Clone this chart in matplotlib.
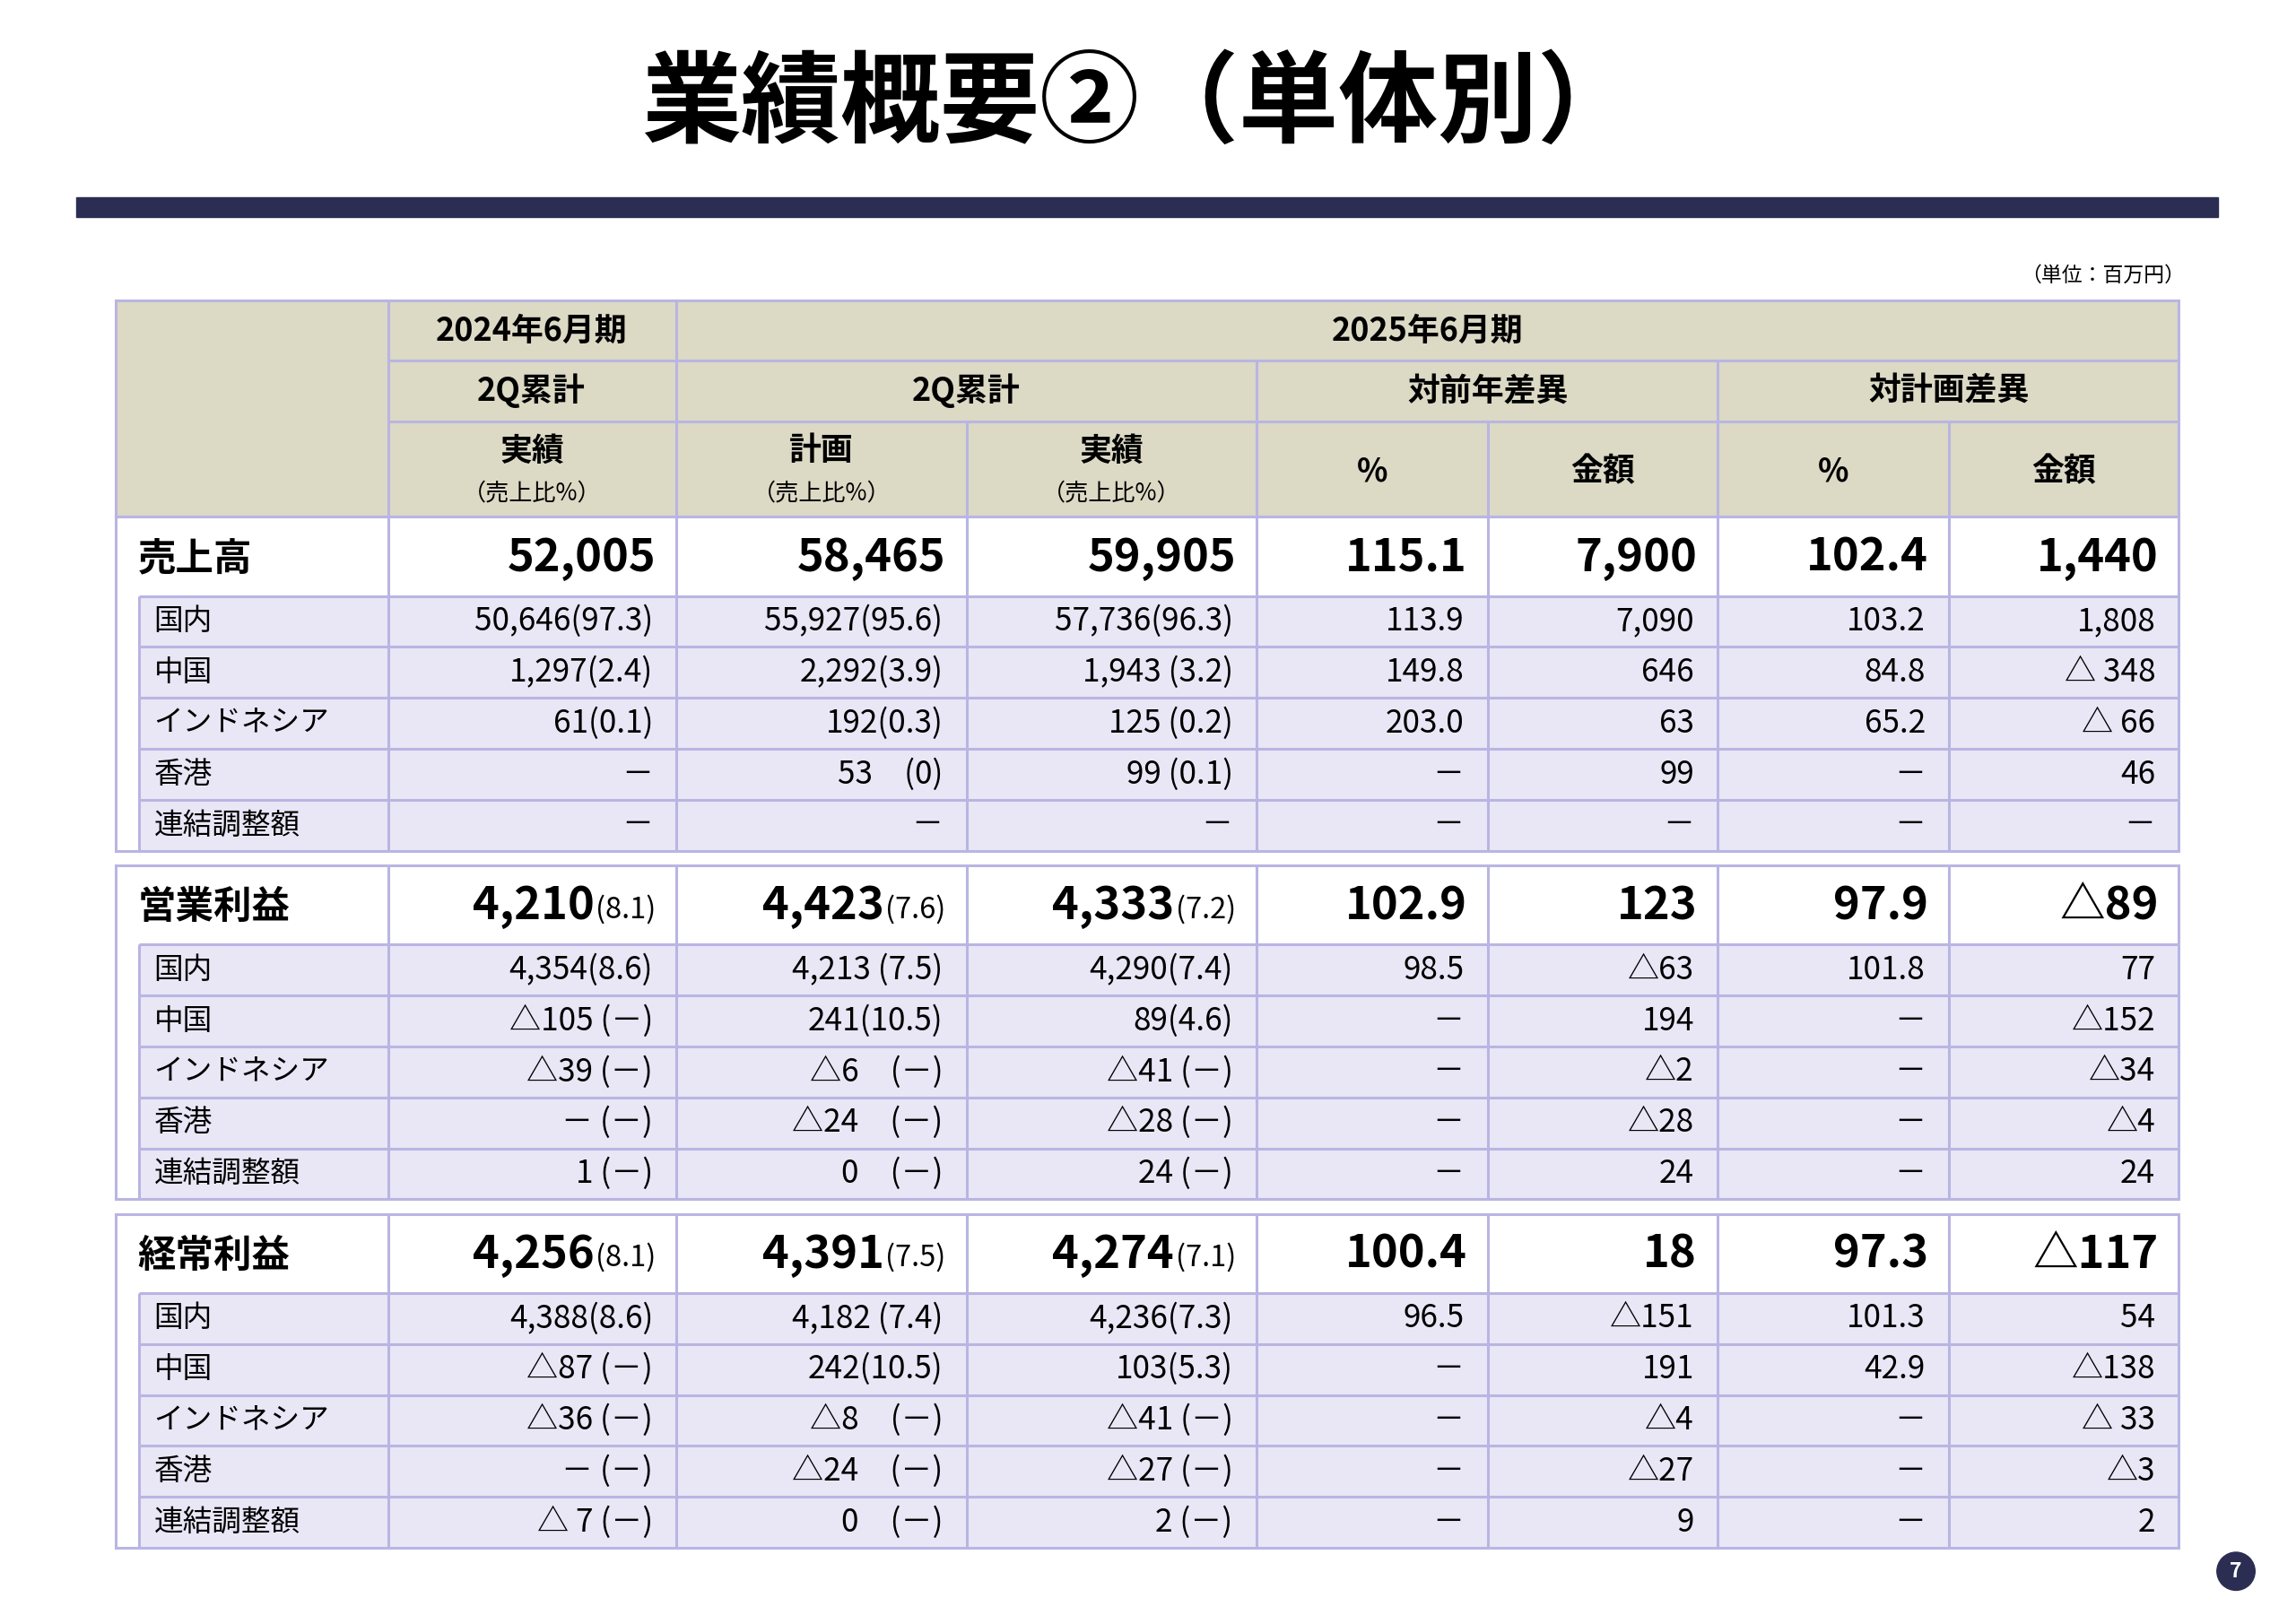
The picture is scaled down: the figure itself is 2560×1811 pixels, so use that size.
import matplotlib
matplotlib.use("Agg")
import matplotlib.pyplot as plt
from matplotlib.patches import Rectangle, Circle

FONT = "Noto Sans CJK JP"
plt.rcParams["font.family"] = FONT

title = "業績概要②（単体別）"
unit = "（単位：百万円）"
sections = ["売上高", "営業利益", "経常利益"]
sub_labels = ["国内", "中国", "インドネシア", "香港", "連結調整額"]

main_vals = [
    ["52,005", "58,465", "59,905", "115.1", "7,900", "102.4", "1,440"],
    ["4,210", "4,423", "4,333", "102.9", "123", "97.9", "△89"],
    ["4,256", "4,391", "4,274", "100.4", "18", "97.3", "△117"],
]
main_ratios = [
    ["", "", ""],
    ["(8.1)", "(7.6)", "(7.2)"],
    ["(8.1)", "(7.5)", "(7.1)"],
]
sub_vals = [
    [
        ["50,646(97.3)", "55,927(95.6)", "57,736(96.3)", "113.9", "7,090", "103.2", "1,808"],
        ["1,297(2.4)", "2,292(3.9)", "1,943 (3.2)", "149.8", "646", "84.8", "△ 348"],
        ["61(0.1)", "192(0.3)", "125 (0.2)", "203.0", "63", "65.2", "△ 66"],
        ["－", "53　(0)", "99 (0.1)", "－", "99", "－", "46"],
        ["－", "－", "－", "－", "－", "－", "－"],
    ],
    [
        ["4,354(8.6)", "4,213 (7.5)", "4,290(7.4)", "98.5", "△63", "101.8", "77"],
        ["△105 (－)", "241(10.5)", "89(4.6)", "－", "194", "－", "△152"],
        ["△39 (－)", "△6　(－)", "△41 (－)", "－", "△2", "－", "△34"],
        ["－ (－)", "△24　(－)", "△28 (－)", "－", "△28", "－", "△4"],
        ["1 (－)", "0　(－)", "24 (－)", "－", "24", "－", "24"],
    ],
    [
        ["4,388(8.6)", "4,182 (7.4)", "4,236(7.3)", "96.5", "△151", "101.3", "54"],
        ["△87 (－)", "242(10.5)", "103(5.3)", "－", "191", "42.9", "△138"],
        ["△36 (－)", "△8　(－)", "△41 (－)", "－", "△4", "－", "△ 33"],
        ["－ (－)", "△24　(－)", "△27 (－)", "－", "△27", "－", "△3"],
        ["△ 7 (－)", "0　(－)", "2 (－)", "－", "9", "－", "2"],
    ],
]

W, H = 1568, 1109
fig = plt.figure(figsize=(25.6, 18.11), dpi=100)
ax = fig.add_axes([0, 0, 1, 1])
ax.set_xlim(0, W); ax.set_ylim(H, 0); ax.axis("off")
S = 1.176  # ref px -> pt

NAVY = "#2b2d52"; BEIGE = "#dcd9c5"; LAV = "#e9e7f6"; BORD = "#b9b5e2"

ax.text(778, 72, title, ha="center", va="center", fontsize=68 * S, fontweight="bold")
ax.add_patch(Rectangle((52, 135), 1463, 13, color=NAVY))
ax.text(1492, 188, unit, ha="right", va="center", fontsize=14 * S)

xs = [79, 265, 462, 660, 858, 1016, 1173, 1331, 1488]
ax.add_patch(Rectangle((79, 205), 1409, 148, facecolor=BEIGE, edgecolor="none"))
def line(x0, y0, x1, y1, lw=2.2):
    ax.plot([x0, x1], [y0, y1], color=BORD, lw=lw, solid_capstyle="butt")
hf = 22 * S
ax.text(363, 226, "2024年6月期", ha="center", va="center", fontsize=hf, fontweight="bold")
ax.text(975, 226, "2025年6月期", ha="center", va="center", fontsize=hf, fontweight="bold")
ax.text(363, 267, "2Q累計", ha="center", va="center", fontsize=hf, fontweight="bold")
ax.text(660, 267, "2Q累計", ha="center", va="center", fontsize=hf, fontweight="bold")
ax.text(1016, 267, "対前年差異", ha="center", va="center", fontsize=hf, fontweight="bold")
ax.text(1331, 267, "対計画差異", ha="center", va="center", fontsize=hf, fontweight="bold")
for i, t in enumerate(["実績", "計画", "実績"]):
    cx = (xs[i + 1] + xs[i + 2]) / 2
    ax.text(cx, 308, t, ha="center", va="center", fontsize=hf, fontweight="bold")
    ax.text(cx, 337, "（売上比%）", ha="center", va="center", fontsize=16 * S)
for i, t in enumerate(["%", "金額", "%", "金額"]):
    cx = (xs[i + 4] + xs[i + 5]) / 2
    ax.text(cx, 322, t, ha="center", va="center", fontsize=hf, fontweight="bold")
line(265, 246, 1488, 246); line(265, 288, 1488, 288)
line(265, 205, 265, 353); line(462, 205, 462, 353)
line(858, 246, 858, 353); line(1173, 246, 1173, 353)
line(660, 288, 660, 353); line(1016, 288, 1016, 353); line(1331, 288, 1331, 353)
ax.add_patch(Rectangle((79, 205), 1409, 148, facecolor="none", edgecolor=BORD, lw=2.2))

fig.canvas.draw()
rend = fig.canvas.get_renderer()
inv = ax.transData.inverted()

tops = [353, 591, 829]
MH, SH = 54, 34.8
for s, top in enumerate(tops):
    bottom = top + MH + 5 * SH
    ax.add_patch(Rectangle((95, top + MH), 1393, 5 * SH, facecolor=LAV, edgecolor="none"))
    ax.text(94, top + MH / 2 + 1, sections[s], ha="left", va="center", fontsize=26 * S, fontweight="bold")
    for c in range(7):
        xr = xs[c + 2] - 14
        y = top + MH / 2 + 1
        r = main_ratios[s][c] if c < 3 else ""
        if r:
            t = ax.text(xr, y + 2, r, ha="right", va="center", fontsize=20 * S)
            bb = t.get_window_extent(rend)
            x0 = inv.transform((bb.x0, bb.y0))[0]
            ax.text(x0 - 1, y, main_vals[s][c], ha="right", va="center", fontsize=31 * S, fontweight="bold")
        else:
            ax.text(xr, y, main_vals[s][c], ha="right", va="center", fontsize=31 * S, fontweight="bold")
    for r in range(5):
        y0 = top + MH + r * SH
        yc = y0 + SH / 2
        ax.text(105, yc, sub_labels[r], ha="left", va="center", fontsize=20 * S)
        for c in range(7):
            ax.text(xs[c + 2] - 16, yc, sub_vals[s][r][c], ha="right", va="center", fontsize=21.5 * S)
        line(95, y0, 1488, y0)
    for x in xs[1:-1]:
        line(x, top, x, bottom)
    line(95, top + MH, 95, bottom)
    ax.add_patch(Rectangle((79, top), 1409, bottom - top, facecolor="none", edgecolor=BORD, lw=2.2))

ax.add_patch(Circle((1527, 1073), 13, color=NAVY))
ax.text(1527, 1073, "7", ha="center", va="center", color="white", fontsize=14 * S, fontweight="bold")

fig.savefig("out.png", dpi=100)
